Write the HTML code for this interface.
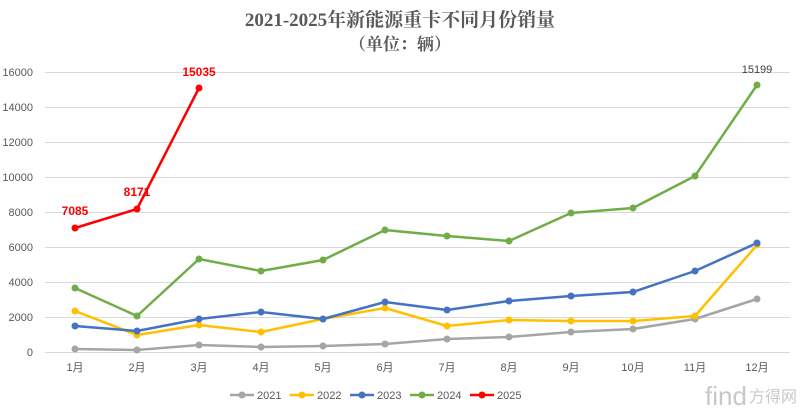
<!DOCTYPE html>
<html><head><meta charset="utf-8"><style>
html,body{margin:0;padding:0;background:#fff;width:800px;height:410px;overflow:hidden}
</style></head><body>
<svg width="800" height="410" xmlns="http://www.w3.org/2000/svg" font-family="Liberation Sans, Noto Sans CJK SC, sans-serif">
<rect width="800" height="410" fill="#fff"/>
<text x="400" y="26" text-anchor="middle" font-size="19" font-weight="bold" fill="#595959" font-family="Liberation Serif, Noto Serif CJK SC, serif">2021-2025年新能源重卡不同月份销量</text>
<text x="400" y="50" text-anchor="middle" font-size="17" font-weight="bold" fill="#595959" font-family="Liberation Serif, Noto Serif CJK SC, serif">（单位：辆）</text>
<g stroke="#d9d9d9" stroke-width="1">
<line x1="45" x2="790" y1="72.5" y2="72.5"/><line x1="45" x2="790" y1="107.5" y2="107.5"/>
<line x1="45" x2="790" y1="142.5" y2="142.5"/><line x1="45" x2="790" y1="177.5" y2="177.5"/>
<line x1="45" x2="790" y1="212.5" y2="212.5"/><line x1="45" x2="790" y1="247.5" y2="247.5"/>
<line x1="45" x2="790" y1="282.5" y2="282.5"/><line x1="45" x2="790" y1="317.5" y2="317.5"/>
<line x1="45" x2="790" y1="352.5" y2="352.5"/>
</g>
<g font-size="11" fill="#595959" text-anchor="end">
<text x="33" y="76">16000</text><text x="33" y="111">14000</text><text x="33" y="146">12000</text>
<text x="33" y="181">10000</text><text x="33" y="216">8000</text><text x="33" y="251">6000</text>
<text x="33" y="286">4000</text><text x="33" y="321">2000</text><text x="33" y="356">0</text>
</g>
<g font-size="11" fill="#595959" text-anchor="middle">
<text x="75" y="371">1月</text><text x="137" y="371">2月</text><text x="199" y="371">3月</text><text x="261" y="371">4月</text>
<text x="323" y="371">5月</text><text x="385" y="371">6月</text><text x="447" y="371">7月</text><text x="509" y="371">8月</text>
<text x="571" y="371">9月</text><text x="633" y="371">10月</text><text x="695" y="371">11月</text><text x="757" y="371">12月</text>
</g>
<g fill="none" stroke-width="2.5" stroke-linejoin="round">
<polyline stroke="#a5a5a5" points="75,349 137,350 199,345 261,347 323,346 385,344 447,339 509,337 571,332 633,329 695,319 757,299"/>
<polyline stroke="#ffc000" points="75,311 137,335 199,325 261,332 323,319 385,308 447,326 509,320 571,321 633,321 695,316 757,245"/>
<polyline stroke="#4472c4" points="75,326 137,331 199,319 261,312 323,319 385,302 447,310 509,301 571,296 633,292 695,271 757,243"/>
<polyline stroke="#70ad47" points="75,288 137,316 199,259 261,271 323,260 385,230 447,236 509,241 571,213 633,208 695,176 757,85"/>
<polyline stroke="#ff0000" points="75,228 137,209 199,88"/>
</g>
<g fill="#a5a5a5"><circle cx="75" cy="349" r="3.5"/><circle cx="137" cy="350" r="3.5"/><circle cx="199" cy="345" r="3.5"/><circle cx="261" cy="347" r="3.5"/><circle cx="323" cy="346" r="3.5"/><circle cx="385" cy="344" r="3.5"/><circle cx="447" cy="339" r="3.5"/><circle cx="509" cy="337" r="3.5"/><circle cx="571" cy="332" r="3.5"/><circle cx="633" cy="329" r="3.5"/><circle cx="695" cy="319" r="3.5"/><circle cx="757" cy="299" r="3.5"/></g>
<g fill="#ffc000"><circle cx="75" cy="311" r="3.5"/><circle cx="137" cy="335" r="3.5"/><circle cx="199" cy="325" r="3.5"/><circle cx="261" cy="332" r="3.5"/><circle cx="323" cy="319" r="3.5"/><circle cx="385" cy="308" r="3.5"/><circle cx="447" cy="326" r="3.5"/><circle cx="509" cy="320" r="3.5"/><circle cx="571" cy="321" r="3.5"/><circle cx="633" cy="321" r="3.5"/><circle cx="695" cy="316" r="3.5"/><circle cx="757" cy="245" r="3.5"/></g>
<g fill="#4472c4"><circle cx="75" cy="326" r="3.5"/><circle cx="137" cy="331" r="3.5"/><circle cx="199" cy="319" r="3.5"/><circle cx="261" cy="312" r="3.5"/><circle cx="323" cy="319" r="3.5"/><circle cx="385" cy="302" r="3.5"/><circle cx="447" cy="310" r="3.5"/><circle cx="509" cy="301" r="3.5"/><circle cx="571" cy="296" r="3.5"/><circle cx="633" cy="292" r="3.5"/><circle cx="695" cy="271" r="3.5"/><circle cx="757" cy="243" r="3.5"/></g>
<g fill="#70ad47"><circle cx="75" cy="288" r="3.5"/><circle cx="137" cy="316" r="3.5"/><circle cx="199" cy="259" r="3.5"/><circle cx="261" cy="271" r="3.5"/><circle cx="323" cy="260" r="3.5"/><circle cx="385" cy="230" r="3.5"/><circle cx="447" cy="236" r="3.5"/><circle cx="509" cy="241" r="3.5"/><circle cx="571" cy="213" r="3.5"/><circle cx="633" cy="208" r="3.5"/><circle cx="695" cy="176" r="3.5"/><circle cx="757" cy="85" r="3.5"/></g>
<g fill="#ff0000"><circle cx="75" cy="228" r="3.5"/><circle cx="137" cy="209" r="3.5"/><circle cx="199" cy="88" r="3.5"/></g>
<g font-size="12" font-weight="bold" fill="#ff0000" text-anchor="middle">
<text x="75" y="215">7085</text><text x="137" y="196">8171</text><text x="199" y="76">15035</text>
</g>
<text x="757" y="73" font-size="11" fill="#404040" text-anchor="middle">15199</text>
<g font-size="11" fill="#595959">
<line x1="230" x2="254" y1="395" y2="395" stroke="#a5a5a5" stroke-width="2.5"/><circle cx="242" cy="395" r="3.5" fill="#a5a5a5"/><text x="257" y="399">2021</text>
<line x1="290" x2="314" y1="395" y2="395" stroke="#ffc000" stroke-width="2.5"/><circle cx="302" cy="395" r="3.5" fill="#ffc000"/><text x="317" y="399">2022</text>
<line x1="350" x2="374" y1="395" y2="395" stroke="#4472c4" stroke-width="2.5"/><circle cx="362" cy="395" r="3.5" fill="#4472c4"/><text x="377" y="399">2023</text>
<line x1="410" x2="434" y1="395" y2="395" stroke="#70ad47" stroke-width="2.5"/><circle cx="422" cy="395" r="3.5" fill="#70ad47"/><text x="437" y="399">2024</text>
<line x1="470" x2="494" y1="395" y2="395" stroke="#ff0000" stroke-width="2.5"/><circle cx="482" cy="395" r="3.5" fill="#ff0000"/><text x="497" y="399">2025</text>
</g>
<text x="705" y="405" font-size="26" fill="#c8c8c8" font-family="Liberation Sans, sans-serif">find</text>
<text x="749" y="402" font-size="16" fill="#c8c8c8">方得网</text>
</svg>
</body></html>
